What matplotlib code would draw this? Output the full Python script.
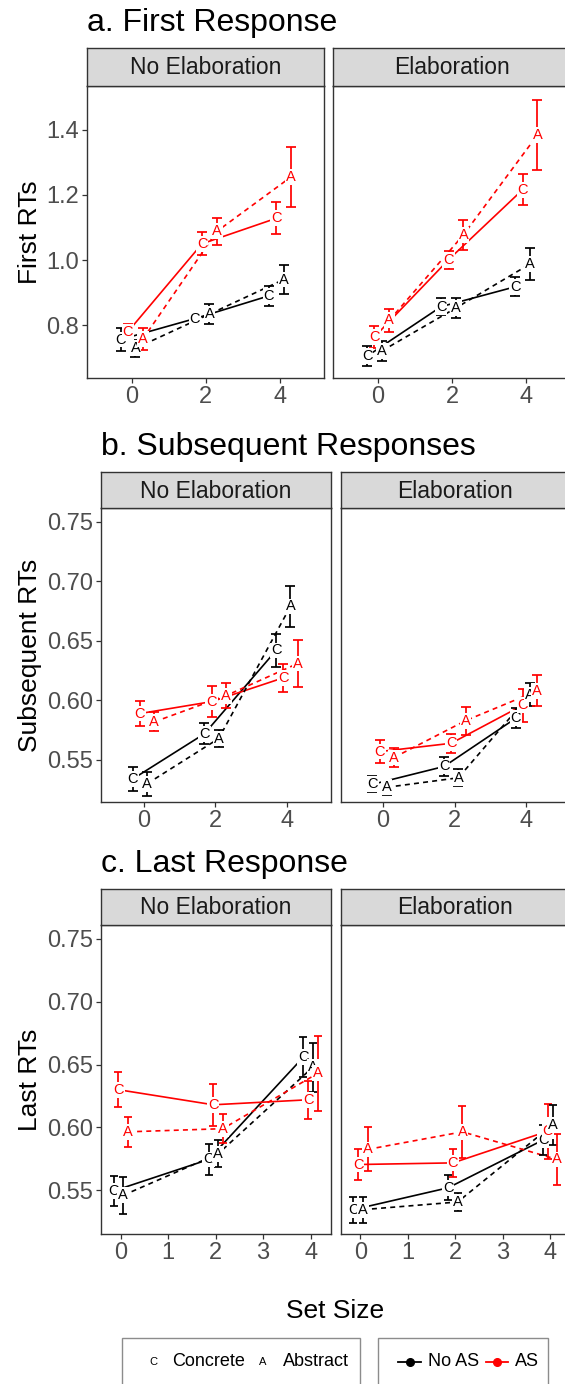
import matplotlib
matplotlib.use('Agg')
import matplotlib.pyplot as plt
from matplotlib.patches import Rectangle
from matplotlib.lines import Line2D

plt.rcParams['font.family'] = ['Liberation Sans', 'DejaVu Sans']

# ---------------- data ----------------
set_sizes = [0, 2, 4]
facet_names = ['No Elaboration', 'Elaboration']
group_word = ['Concrete', 'Concrete', 'Abstract', 'Abstract']
group_letter = ['C', 'C', 'A', 'A']
group_as = ['No AS', 'AS', 'No AS', 'AS']

# order of rows: Concrete/No AS, Concrete/AS, Abstract/No AS, Abstract/AS
first_noelab_mean = [[0.756, 0.820, 0.890], [0.780, 1.050, 1.128],
                     [0.729, 0.834, 0.940], [0.757, 1.088, 1.255]]
first_noelab_se = [[0.034, 0.012, 0.030], [0.023, 0.036, 0.049],
                   [0.026, 0.031, 0.044], [0.034, 0.041, 0.091]]
first_elab_mean = [[0.705, 0.857, 0.918], [0.764, 1.001, 1.216],
                   [0.721, 0.853, 0.988], [0.815, 1.077, 1.384]]
first_elab_se = [[0.031, 0.027, 0.029], [0.033, 0.028, 0.047],
                 [0.030, 0.031, 0.048], [0.035, 0.045, 0.107]]

subs_noelab_mean = [[0.534, 0.572, 0.642], [0.589, 0.599, 0.619],
                    [0.530, 0.568, 0.679], [0.582, 0.604, 0.631]]
subs_noelab_se = [[0.010, 0.009, 0.014], [0.0105, 0.013, 0.012],
                  [0.010, 0.0075, 0.017], [0.008, 0.0105, 0.020]]
subs_elab_mean = [[0.5295, 0.5445, 0.585], [0.557, 0.564, 0.596],
                  [0.527, 0.535, 0.605], [0.552, 0.583, 0.608]]
subs_elab_se = [[0.0066, 0.008, 0.0085], [0.0095, 0.008, 0.014],
                [0.0063, 0.007, 0.0096], [0.008, 0.0117, 0.013]]

last_noelab_mean = [[0.5495, 0.5745, 0.656], [0.630, 0.618, 0.622],
                    [0.546, 0.579, 0.648], [0.5965, 0.599, 0.643]]
last_noelab_se = [[0.0116, 0.012, 0.016], [0.014, 0.0167, 0.015],
                  [0.0146, 0.0107, 0.0195], [0.0117, 0.0115, 0.030]]
last_elab_mean = [[0.5346, 0.552, 0.590], [0.5705, 0.5718, 0.597],
                  [0.5346, 0.5407, 0.602], [0.5825, 0.5965, 0.5745]]
last_elab_se = [[0.0104, 0.010, 0.012], [0.012, 0.011, 0.022],
                [0.0104, 0.007, 0.016], [0.0175, 0.0205, 0.020]]

panel_titles = ['a. First Response', 'b. Subsequent Responses', 'c. Last Response']
y_titles = ['First RTs', 'Subsequent RTs', 'Last RTs']

# ---------------- styling ----------------
W, H = 565, 1384
fig = plt.figure(figsize=(W / 100, H / 100), dpi=100)
fig.patch.set_facecolor('white')

COL = {'No AS': '#000000', 'AS': '#FF0000'}
LS = {'Concrete': '-', 'Abstract': (0, (3, 2.5))}
BORDER = '#333333'


def px_axes(x0, y0, x1, y1):
    return fig.add_axes([x0 / W, 1 - y1 / H, (x1 - x0) / W, (y1 - y0) / H])


panels = [
    dict(means=[first_noelab_mean, first_elab_mean], ses=[first_noelab_se, first_elab_se],
         xl=[(86.8, 323.6), (333.3, 570.1)], y0=85.7, y1=378.0, strip=48.3,
         ylim=(0.638, 1.535), yticks=[0.8, 1.0, 1.2, 1.4], yfmt='{:.1f}',
         xlim=(-1.21, 5.18), xticks=[0, 2, 4], offs=[-0.3, -0.1, 0.1, 0.3],
         cap=3.6, title_y=23),
    dict(means=[subs_noelab_mean, subs_elab_mean], ses=[subs_noelab_se, subs_elab_se],
         xl=[(100.9, 330.5), (340.5, 570.1)], y0=508.3, y1=802.3, strip=472.3,
         ylim=(0.5144, 0.7615), yticks=[0.55, 0.60, 0.65, 0.70, 0.75], yfmt='{:.2f}',
         xlim=(-1.19, 5.22), xticks=[0, 2, 4], offs=[-0.3, -0.1, 0.1, 0.3],
         cap=3.6, title_y=446.7),
    dict(means=[last_noelab_mean, last_elab_mean], ses=[last_noelab_se, last_elab_se],
         xl=[(100.9, 330.5), (340.5, 570.1)], y0=925.0, y1=1234.3, strip=889.0,
         ylim=(0.515, 0.761), yticks=[0.55, 0.60, 0.65, 0.70, 0.75], yfmt='{:.2f}',
         xlim=(-0.42, 4.42), xticks=[0, 1, 2, 3, 4], offs=[-0.15, -0.05, 0.05, 0.15],
         cap=2.6, title_y=864),
]

for pi, P in enumerate(panels):
    for fi in range(2):
        x0, x1 = P['xl'][fi]
        ax = px_axes(x0, P['y0'], x1, P['y1'])
        ax.set_xlim(*P['xlim'])
        ax.set_ylim(*P['ylim'])
        for s in ax.spines.values():
            s.set_color(BORDER)
            s.set_linewidth(1.0)
        ax.set_xticks(P['xticks'])
        ax.set_xticklabels([str(t) for t in P['xticks']])
        ax.set_yticks(P['yticks'])
        ax.set_yticklabels([P['yfmt'].format(t) for t in P['yticks']])
        ax.tick_params(axis='both', colors=BORDER, labelcolor='#4D4D4D',
                       labelsize=17, length=3.5, width=0.9, pad=2)
        if fi == 1:
            ax.tick_params(axis='y', left=False, labelleft=False)

        means = P['means'][fi]
        ses = P['ses'][fi]
        # lines
        for gi in range(4):
            xs = [x + P['offs'][gi] for x in set_sizes]
            ax.plot(xs, means[gi], color=COL[group_as[gi]],
                    linestyle=LS[group_word[gi]], lw=1.2, zorder=2)
        # error bars
        for gi in range(4):
            xs = [x + P['offs'][gi] for x in set_sizes]
            ax.errorbar(xs, means[gi], yerr=ses[gi], fmt='none',
                        ecolor=COL[group_as[gi]], elinewidth=1.25,
                        capsize=P['cap'], capthick=1.25, zorder=3)
        # letters
        for gi in range(4):
            for xi, x in enumerate(set_sizes):
                ax.text(x + P['offs'][gi], means[gi][xi], group_letter[gi],
                        ha='center', va='center', fontsize=10.5,
                        color=COL[group_as[gi]], zorder=4,
                        bbox=dict(boxstyle='square,pad=0.06', fc='white', ec='none'))

        # strip
        sax = px_axes(x0, P['strip'], x1, P['y0'])
        sax.set_facecolor('#D9D9D9')
        sax.set_xticks([])
        sax.set_yticks([])
        for s in sax.spines.values():
            s.set_color(BORDER)
            s.set_linewidth(1.0)
        sax.text(0.5, 0.48, facet_names[fi], transform=sax.transAxes,
                 ha='center', va='center', fontsize=16.5, color='#1A1A1A')

    # panel title
    fig.text(P['xl'][0][0] / W, 1 - P['title_y'] / H, panel_titles[pi],
             ha='left', va='center', fontsize=23, color='black')
    # y-axis title
    fig.text(30 / W, 1 - ((P['y0'] + P['y1']) / 2) / H, y_titles[pi],
             ha='center', va='center', rotation=90, fontsize=19, color='black')

# x-axis title
fig.text(335 / W, 1 - 1311 / H, 'Set Size', ha='center', va='center',
         fontsize=19, color='black')

# ---------------- legends ----------------
box_col = '#8C8C8C'
fig.add_artist(Rectangle((122.3 / W, 1 - 1395 / H), (360 - 122.3) / W, (1395 - 1338) / H,
                         transform=fig.transFigure, fill=False, ec=box_col, lw=1.0))
fig.add_artist(Rectangle((378.3 / W, 1 - 1395 / H), (548.3 - 378.3) / W, (1395 - 1338) / H,
                         transform=fig.transFigure, fill=False, ec=box_col, lw=1.0))
ly = 1 - 1362 / H
fig.text(153.3 / W, ly, 'C', ha='center', va='center', fontsize=8, color='black')
fig.text(171.7 / W, ly, 'Concrete', ha='left', va='center', fontsize=13, color='black')
fig.text(263 / W, ly, 'A', ha='center', va='center', fontsize=8, color='black')
fig.text(282.7 / W, ly, 'Abstract', ha='left', va='center', fontsize=13, color='black')

for (xa, xb, xm, xt, lab) in [(398, 421, 409.5, 428, 'No AS'), (486, 508, 497, 515, 'AS')]:
    c = COL[lab]
    fig.add_artist(Line2D([xa / W, xb / W], [ly, ly], transform=fig.transFigure,
                          color=c, lw=1.3))
    fig.add_artist(Line2D([xm / W], [ly], transform=fig.transFigure, color=c,
                          marker='o', markersize=5.5, lw=0))
    fig.text(xt / W, ly, lab, ha='left', va='center', fontsize=13, color='black')

fig.savefig('out.png', dpi=100, facecolor='white')
